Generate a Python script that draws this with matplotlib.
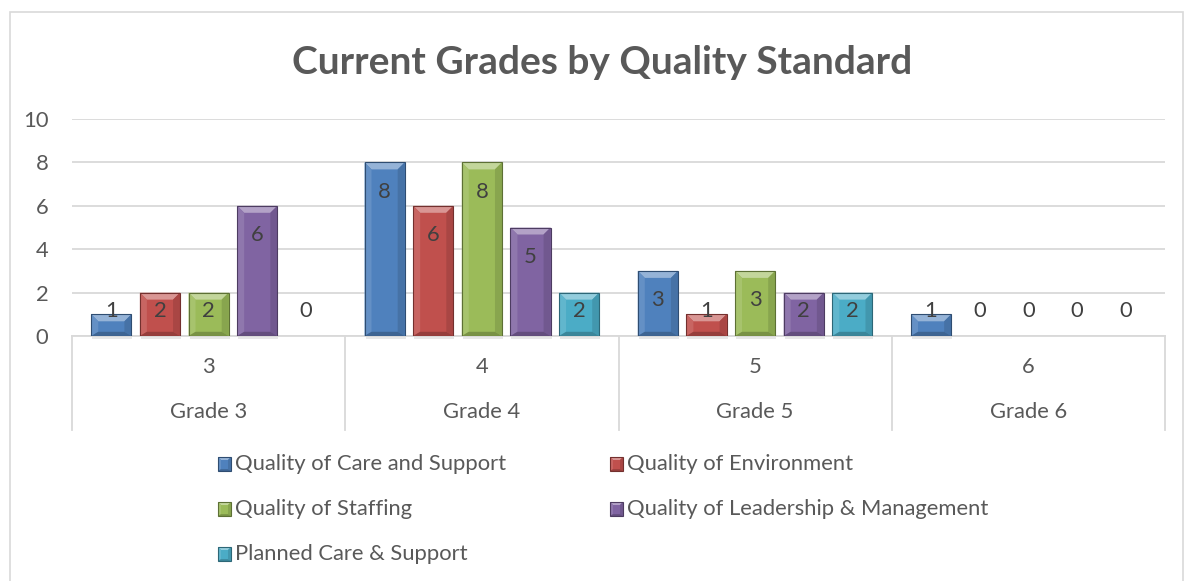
import matplotlib
matplotlib.use("Agg")
import matplotlib.pyplot as plt
from matplotlib.patches import Polygon, Rectangle
from matplotlib.transforms import IdentityTransform, blended_transform_factory
import numpy as np

plt.rcParams['font.family'] = ['Lato', 'DejaVu Sans']

grades = ['Grade 3', 'Grade 4', 'Grade 5', 'Grade 6']
grade_nums = ['3', '4', '5', '6']
series = ['Quality of Care and Support', 'Quality of Environment',
          'Quality of Staffing', 'Quality of Leadership & Management',
          'Planned Care & Support']
care = [1, 8, 3, 1]
environment = [2, 6, 1, 0]
staffing = [2, 8, 3, 0]
leadership = [6, 5, 2, 0]
planned = [0, 2, 2, 0]
values = [care, environment, staffing, leadership, planned]
colors = ['#4F81BD', '#C0504D', '#9BBB59', '#8064A2', '#4BACC6']

txt = '#595959'
grid = '#d9d9d9'
fs = 15.8

W, H = 1185, 581
fig = plt.figure(figsize=(W / 100, H / 100), dpi=100)
# chart frame
fig.patches.append(Rectangle((10 / W, -0.01), (W - 12) / W, (H - 12) / H + 0.01,
                             transform=fig.transFigure, fill=False,
                             edgecolor=grid, lw=1.2))

ax = fig.add_axes([72 / W, (H - 336) / H, (1165 - 72) / W, (336 - 119) / H])
ax.set_xlim(-0.5, 3.5)
ax.set_ylim(0, 10)
ax.set_autoscale_on(False)
ax.set_yticks(range(0, 11, 2))
ax.tick_params(axis='y', length=0, pad=17, labelsize=fs, labelcolor=txt)
ax.set_xticks([])
for s in ax.spines.values():
    s.set_visible(False)
ax.yaxis.grid(True, color=grid, lw=1.3)
ax.set_axisbelow(True)

fig.text(0.508, (H - 62) / H, 'Current Grades by Quality Standard', ha='center',
         va='center', fontsize=28, fontweight='bold', color=txt)


def mix(c, t, f):
    c = np.array(matplotlib.colors.to_rgb(c))
    t = np.array(matplotlib.colors.to_rgb(t))
    return tuple(c * (1 - f) + t * f)


def bevel(x0, y0, x1, y1, color, zorder=3, b=7):
    # beveled box in pixel coords
    b = min(b, (y1 - y0) / 2, (x1 - x0) / 2)
    bb = b * 0.6
    parts = [
        ([(x0, y0), (x1, y0), (x1, y1), (x0, y1)], color),
        ([(x0, y1), (x1, y1), (x1 - b, y1 - b), (x0 + b, y1 - b)], mix(color, 'white', 0.4)),
        ([(x0, y0), (x0 + b, y0 + bb), (x0 + b, y1 - b), (x0, y1)], mix(color, 'white', 0.12)),
        ([(x1, y0), (x1, y1), (x1 - b, y1 - b), (x1 - b, y0 + bb)], mix(color, 'black', 0.12)),
        ([(x0, y0), (x1, y0), (x1 - b, y0 + bb), (x0 + b, y0 + bb)], mix(color, 'black', 0.22)),
    ]
    out = []
    for pts, c in parts:
        out.append(Polygon(pts, closed=True, facecolor=c, edgecolor='none',
                           transform=IdentityTransform(), zorder=zorder))
    out.append(Polygon([(x0, y0), (x1, y0), (x1, y1), (x0, y1)], closed=True,
                       fill=False, edgecolor=mix(color, 'black', 0.4), lw=0.8,
                       transform=IdentityTransform(), zorder=zorder))
    return out


x = np.arange(len(grades))
pitch = 0.178
width = 0.147
for i, (vals, c) in enumerate(zip(values, colors)):
    pos = x + (i - 2) * pitch
    bars = ax.bar(pos, vals, width, color='none', zorder=2)
    for rect, v, px in zip(bars, vals, pos):
        if v > 0:
            (dx0, dy0), (dx1, dy1) = ax.transData.transform(
                [(rect.get_x(), 0), (rect.get_x() + rect.get_width(), v)])
            sh = Rectangle((dx0 + 1, dy0 - 3), dx1 - dx0, 3,
                           transform=IdentityTransform(),
                           facecolor='#e8e8e8', edgecolor='none', zorder=2)
            ax.add_artist(sh)
            sh.set_clip_on(False)
            for p in bevel(dx0, dy0, dx1, dy1, c):
                ax.add_artist(p)
        ax.text(px, max(v - 1.35, 1.15), str(v), ha='center', va='center',
                fontsize=fs, color='#404040', zorder=6)

# category axis (two levels)
bt = blended_transform_factory(ax.transData, fig.transFigure)
y_top = (H - 336) / H
y_bot = (H - 430) / H
ax.plot([-0.5, 3.5], [y_top, y_top], transform=bt, color=grid, lw=1.3, clip_on=False)
for b in np.arange(-0.5, 4.0, 1.0):
    ax.plot([b, b], [y_top, y_bot], transform=bt, color=grid, lw=1.3, clip_on=False)
for xi, g, n in zip(x, grades, grade_nums):
    ax.text(xi, (H - 367) / H, n, transform=bt, ha='center', va='center',
            fontsize=fs, color=txt)
    ax.text(xi, (H - 412) / H, g, transform=bt, ha='center', va='center',
            fontsize=fs, color=txt)

# legend, row-major in two columns
leg_x = [218, 610]
leg_y = [464, 509, 554]
for k, (name, c) in enumerate(zip(series, colors)):
    lx = leg_x[k % 2]
    ly = leg_y[k // 2]
    for p in bevel(lx, H - ly - 7, lx + 13, H - ly + 7, c, zorder=5, b=3):
        fig.patches.append(p)
    fig.text((lx + 17) / W, (H - ly) / H, name, ha='left', va='center',
             fontsize=fs, color=txt)

fig.savefig('out.png', dpi=100)
